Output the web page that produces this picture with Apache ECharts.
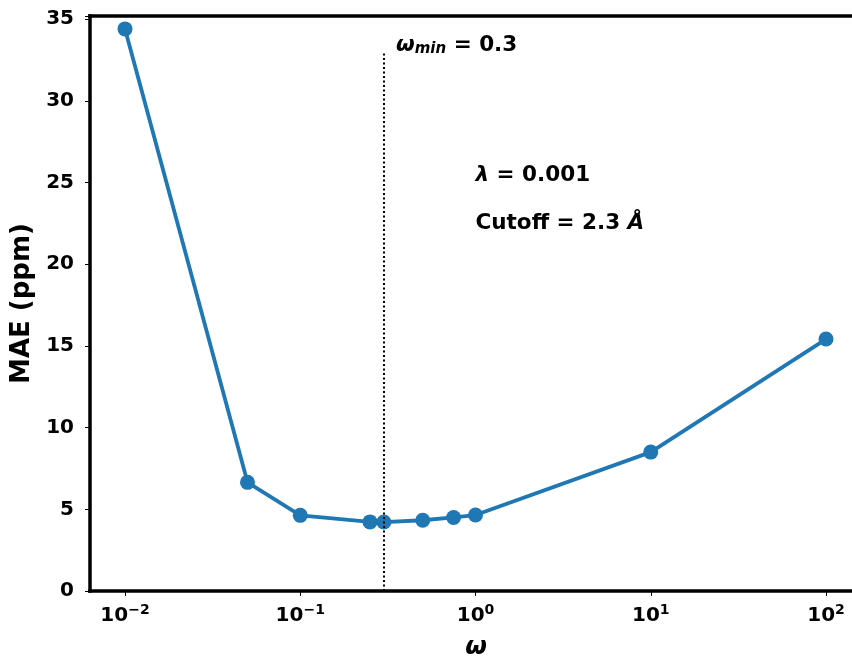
<!DOCTYPE html>
<html>
<head>
<meta charset="utf-8">
<script src="https://cdn.jsdelivr.net/npm/echarts@6/dist/echarts.min.js"></script>
<style>
  html, body { margin: 0; padding: 0; background: #fff; overflow: hidden; }
  #main { width: 852px; height: 660px; }
</style>
</head>
<body>
<div id="main"></div>
<script>
// omega values and MAE (ppm)
var omega = [0.01, 0.05, 0.1, 0.25, 0.3, 0.5, 0.75, 1, 10, 100];
var mae = [34.4, 6.65, 4.63, 4.23, 4.22, 4.33, 4.5, 4.65, 8.5, 15.42];
var xTicks = [0.01, 0.1, 1, 10, 100];
var xTickExp = ['\u22122', '\u22121', '0', '1', '2'];
var omegaMin = 0.3;
var omegaMinTop = 33;

var FONT = 'DejaVu Sans';
var xMin = Math.pow(10, -2.1997);
var xMax = Math.pow(10, 2.2054);
var chart = echarts.init(document.getElementById('main'));

var spine = { show: true, lineStyle: { color: '#000', width: 3.5, cap: 'square' } };

chart.setOption({
  animation: false,
  grid: {
    left: 90, right: -10, top: 16, bottom: 69,
    outerBoundsMode: 'none',
    containLabel: false,
    show: false
  },
  xAxis: [{
    type: 'log',
    logBase: 10,
    min: xMin,
    max: xMax,
    name: '{w|\u03c9}',
    nameLocation: 'middle',
    nameGap: 44,
    nameTextStyle: {
      rich: { w: { fontFamily: FONT, fontSize: 25, fontWeight: 'bold', fontStyle: 'italic', color: '#000' } }
    },
    axisLine: spine,
    splitLine: { show: false },
    minorTick: { show: false },
    axisTick: { show: true, length: 5, lineStyle: { color: '#000', width: 1 }, customValues: xTicks },
    axisLabel: {
      customValues: xTicks,
      margin: 12,
      formatter: function (v) {
        var i = xTicks.findIndex(function (t) { return Math.abs(Math.log10(t) - Math.log10(v)) < 1e-6; });
        if (i < 0) return '';
        return '{b|10}{e|' + xTickExp[i] + '}';
      },
      rich: {
        b: { fontFamily: FONT, fontSize: 20, fontWeight: 'bold', color: '#000', verticalAlign: 'bottom' },
        e: { fontFamily: FONT, fontSize: 14, fontWeight: 'bold', color: '#000', verticalAlign: 'top', padding: [0, 0, 9, 0] }
      }
    }
  }, {
    // top spine only
    type: 'log',
    logBase: 10,
    position: 'top',
    min: xMin,
    max: xMax,
    axisLine: spine,
    axisTick: { show: false },
    axisLabel: { show: false },
    splitLine: { show: false },
    minorTick: { show: false }
  }],
  yAxis: {
    type: 'value',
    min: 0,
    max: 35.19,
    interval: 5,
    name: 'MAE (ppm)',
    nameLocation: 'middle',
    nameGap: 53,
    nameTextStyle: { fontFamily: FONT, fontSize: 26, fontWeight: 'bold', color: '#000' },
    axisLine: spine,
    splitLine: { show: false },
    axisTick: { show: true, length: 5, lineStyle: { color: '#000', width: 1 } },
    axisLabel: {
      margin: 16,
      fontFamily: FONT, fontSize: 20, fontWeight: 'bold', color: '#000',
      formatter: function (v) { return v > 35 ? '' : String(v); }
    }
  },
  series: [{
    type: 'line',
    data: omega.map(function (x, i) { return [x, mae[i]]; }),
    lineStyle: { color: '#1f77b4', width: 3.8 },
    itemStyle: { color: '#1f77b4' },
    symbol: 'circle',
    symbolSize: 15,
    z: 3,
    markLine: {
      silent: true,
      symbol: ['none', 'none'],
      label: { show: false },
      lineStyle: { color: '#000', type: [2, 2.5], width: 2 },
      data: [[{ coord: [omegaMin, 0] }, { coord: [omegaMin, omegaMinTop] }]]
    },
    markPoint: {
      silent: true,
      symbol: 'circle',
      symbolSize: 0,
      label: {
        show: true, position: 'right', distance: 0,
        fontFamily: FONT, fontSize: 21.5, fontWeight: 'bold', color: '#000',
        rich: {
          it: { fontFamily: FONT, fontSize: 21.5, fontWeight: 'bold', fontStyle: 'italic', color: '#000' },
          sub: { fontFamily: FONT, fontSize: 15, fontWeight: 'bold', fontStyle: 'italic', color: '#000', verticalAlign: 'bottom', padding: [7, 0, 0, 0] },
          n: { fontFamily: FONT, fontSize: 21.5, fontWeight: 'bold', color: '#000' }
        }
      },
      data: [
        { coord: [0.352, 33.4], label: { formatter: '{it|\u03c9}{sub|min}{n| = 0.3}' } },
        { coord: [1, 25.45], label: { formatter: '{it|\u03bb}{n| = 0.001}' } },
        { coord: [1, 22.5], label: { formatter: '{n|Cutoff = 2.3 }{it|\u00c5}' } }
      ]
    }
  }]
});
</script>
</body>
</html>
